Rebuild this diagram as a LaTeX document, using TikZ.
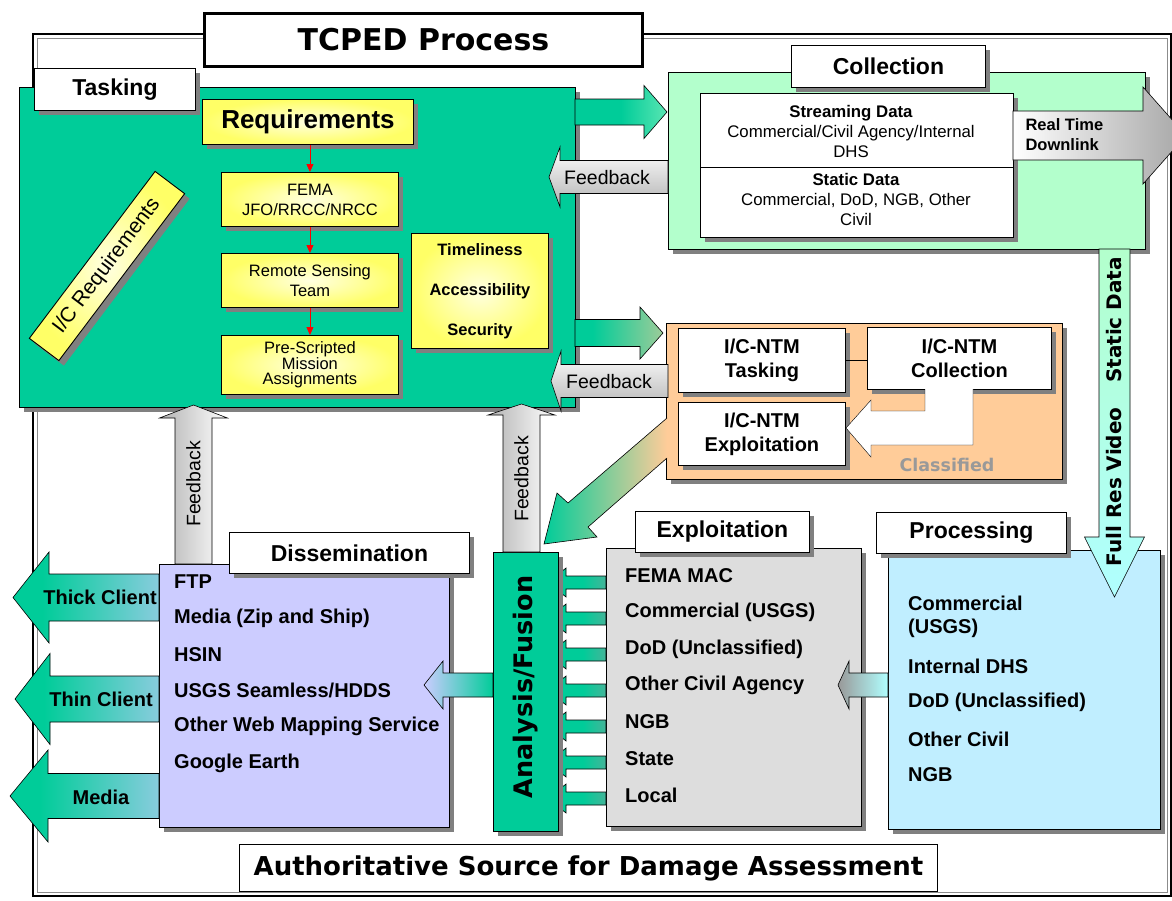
\documentclass[tikz,border=0pt]{standalone}
\usepackage{fontspec}
\setmainfont{Liberation Sans}
\newfontfamily\verd{DejaVu Sans}
\usetikzlibrary{shadows,arrows.meta}

\definecolor{taskgreen}{HTML}{00CC99}
\definecolor{collgreen}{HTML}{B3FFCC}
\definecolor{ntmorange}{HTML}{FFCC99}
\definecolor{explgray}{HTML}{DDDDDD}
\definecolor{disslav}{HTML}{CCCCFF}
\definecolor{procblue}{HTML}{C0EEFF}
\definecolor{reqyellow}{HTML}{FFFF66}
\definecolor{vidcyan}{HTML}{B0FFFF}
\definecolor{fadegray}{HTML}{999999}

\pgfdeclarehorizontalshading{greengray}{100bp}{color(0bp)=(taskgreen); color(55bp)=(taskgreen); color(100bp)=(fadegray)}
\pgfdeclarehorizontalshading{greenlav}{100bp}{color(0bp)=(taskgreen); color(35bp)=(taskgreen); color(95bp)=(disslav); color(100bp)=(disslav)}
\pgfdeclarehorizontalshading{greencoll}{100bp}{color(0bp)=(taskgreen); color(50bp)=(taskgreen); color(100bp)=(collgreen)}
\pgfdeclarehorizontalshading{greenntm}{100bp}{color(0bp)=(taskgreen); color(35bp)=(taskgreen); color(100bp)=(ntmorange)}

\newcommand{\fsz}[2]{\fontsize{#1}{#2}\selectfont}
% block arrow across: tip x, head x, tail x, centre y, body half, head half
\newcommand{\blockh}[6]{(#1,#4) -- (#2,{#4-#6}) -- (#2,{#4-#5}) -- (#3,{#4-#5}) -- (#3,{#4+#5}) -- (#2,{#4+#5}) -- (#2,{#4+#6}) -- cycle}
% block arrow up/down: tip y, head y, tail y, centre x, body half, head half
\newcommand{\blockv}[6]{(#4,#1) -- ({#4-#6},#2) -- ({#4-#5},#2) -- ({#4-#5},#3) -- ({#4+#5},#3) -- ({#4+#5},#2) -- ({#4+#6},#2) -- cycle}

\begin{document}
\begin{tikzpicture}[x=1pt,y=-1pt,
    shadowed/.style={drop shadow={shadow xshift=5pt,shadow yshift=-5pt,fill=black!50,opacity=1}},
    panel/.style={draw,line width=0.9pt,anchor=north west,inner sep=0pt,shadowed},
    tag/.style={panel,fill=white,font=\fsz{23}{23}\bfseries},
    reqbox/.style={panel,inner color=yellow!12,outer color=reqyellow,align=center},
    ntm/.style={panel,fill=white,align=center,font=\fsz{20}{24}\bfseries},
    item/.style={anchor=west,inner sep=0pt,align=left,font=\fsz{20}{23}\bfseries},
    blk/.style={draw,line width=0.6pt},
    redarr/.style={red,line width=0.8pt,-{Triangle[length=8pt,width=7pt]}}]
\useasboundingbox (0,0) rectangle (1172,900);

% frame and title
\draw[line width=2pt] (33,34) rectangle (1171,896);
\draw[black!45,line width=1pt] (37,38) rectangle (1167,892);
\node[draw,line width=3pt,fill=white,anchor=north west,minimum width=438,minimum height=53,
      font=\verd\bfseries\fsz{30}{30}] (title) at (203,12) {TCPED Process};

% tasking
\node[panel,fill=taskgreen,minimum width=556,minimum height=320] (tasking) at (19,87) {};
\node[tag,minimum width=161,minimum height=42] (tasklabel) at (34,68) {Tasking};
\node[reqbox,minimum width=211,minimum height=45,font=\fsz{26}{26}\bfseries] (req) at (202,99) {Requirements};
\node[reqbox,minimum width=177,minimum height=54,font=\fsz{16.5}{20}] (fema) at (221,172) {FEMA\\JFO/RRCC/NRCC};
\node[reqbox,minimum width=177,minimum height=54,font=\fsz{16.5}{20}] (rst) at (221,253) {Remote Sensing\\Team};
\node[reqbox,minimum width=177,minimum height=59,font=\fsz{16.5}{15}] (psma) at (221,335) {Pre-Scripted\\Mission\\Assignments};
\node[reqbox,minimum width=137,minimum height=115,font=\fsz{16.5}{40}\bfseries] (tas) at (411,233) {Timeliness\\Accessibility\\Security};
\node[reqbox,anchor=center,rotate=53,minimum width=209,minimum height=37,font=\fsz{21}{21}] (icreq) at (107,266) {I/C Requirements};
\draw[redarr] (fema.north |- req.south) -- (fema.north);
\draw[redarr] (fema) -- (rst);
\draw[redarr] (rst) -- (psma);

% collection
\node[panel,fill=collgreen,minimum width=477,minimum height=177] (collection) at (668,72) {};
\node[tag,minimum width=194,minimum height=42] (colllabel) at (791,45) {Collection};
\node[panel,fill=white,minimum width=313,minimum height=144] (colldata) at (700,93) {};
\draw (700,167) -- (1013,167);
\node[font=\fsz{16.8}{20},align=center] (stream) at (851,131) {\textbf{Streaming Data}\\Commercial/Civil Agency/Internal\\DHS};
\node[font=\fsz{16.8}{20},align=center] (static) at (856,199) {\textbf{Static Data}\\Commercial, DoD, NGB, Other\\Civil};
\shade[blk,left color=white,right color=black!35] \blockh{1186}{1143}{1013}{135.5}{24.5}{48.5};
\node[anchor=west,align=left,font=\fsz{16.5}{20}\bfseries] (rtd) at (1022,135) {Real Time\\Downlink};

% classified
\node[panel,fill=ntmorange,minimum width=396,minimum height=156] (classified) at (666,323) {};
\node[ntm,minimum width=167,minimum height=64] (ntmtask) at (678,328) {I/C-NTM\\Tasking};
\node[ntm,minimum width=184,minimum height=62] (ntmcoll) at (867,327) {I/C-NTM\\Collection};
\node[ntm,minimum width=167,minimum height=63] (ntmexp) at (678,402) {I/C-NTM\\Exploitation};
\draw (ntmtask.east) -- (ntmtask.east -| ntmcoll.west);
\fill[white] (925,389) -- (925,411) -- (871,411) -- (871,400) -- (846,428) -- (871,457) -- (871,445) -- (973,445) -- (973,389) -- cycle;
\draw (925,389) -- (925,411) -- (871,411) -- (871,400) -- (846,428) -- (871,457) -- (871,445) -- (973,445) -- (973,389);
\node[text=black!40,font=\verd\bfseries\fsz{17.5}{17.5}] (classlabel) at (947,465) {Classified};

% tasking to collection and back
\shade[blk,shading=greencoll] \blockh{667}{644}{575}{112}{13}{26.5};
\shade[blk,shading=greenntm] \blockh{663}{640}{575}{333}{13.5}{26};
\shade[blk,top color=white,bottom color=black!30] \blockh{549}{560}{668}{177}{16.5}{30};
\node[font=\fsz{19.5}{19.5}] (fbcoll) at (607,178) {Feedback};
\shade[blk,top color=white,bottom color=black!30] \blockh{551}{561}{668}{381}{16.5}{30};
\node[font=\fsz{19.5}{19.5}] (fbntm) at (609,382) {Feedback};
\shade[blk,left color=taskgreen,right color=ntmorange] (667,418) -- (568,503) -- (557,493) -- (544,544) -- (597,537) -- (588,527) -- (667,458);

% exploitation
\node[panel,fill=explgray,minimum width=255,minimum height=278] (exploitation) at (606,548) {};
\node[tag,minimum width=174,minimum height=41] (expllabel) at (635,511) {Exploitation};
\foreach \txt [count=\i] in {FEMA MAC, Commercial (USGS), DoD (Unclassified), Other Civil Agency, NGB, State, Local}{
  \pgfmathsetmacro\ya{546.5+36*\i}
  \pgfmathsetmacro\yt{539.5+36.5*\i}
  \shade[blk,shading=greengray] \blockh{548}{566}{606}{\ya}{6.5}{14.5};
  \node[item] (x\i) at (625,\yt) {\txt};
}

% analysis / fusion
\node[panel,fill=taskgreen,minimum width=65,minimum height=279] (analysis) at (493,552) {};
\node[rotate=90,font=\verd\bfseries\fsz{25.5}{25.5}] (anlabel) at (525.5,687) {Analysis/Fusion};

% dissemination
\node[panel,fill=disslav,minimum width=290,minimum height=263] (dissemination) at (159,564) {};
\node[tag,minimum width=240,minimum height=41] (disslabel) at (229,532) {Dissemination};
\foreach \txt [count=\i] in {FTP, Media (Zip and Ship), HSIN, USGS Seamless/HDDS, Other Web Mapping Service, Google Earth}{
  \pgfmathsetmacro\yt{545.8+36.2*\i}
  \node[item] (d\i) at (174,\yt) {\txt};
}
\shade[blk,shading=greenlav] \blockh{13}{49}{159}{597.5}{23.5}{45.5};
\shade[blk,shading=greenlav] \blockh{15}{50}{159}{699}{23}{45.5};
\shade[blk,shading=greenlav] \blockh{10}{48}{159}{796}{22.5}{46};
\node[font=\fsz{20}{20}\bfseries] (thick) at (100,597) {Thick Client};
\node[font=\fsz{20}{20}\bfseries] (thin) at (101,699) {Thin Client};
\node[font=\fsz{20}{20}\bfseries] (media) at (101,797) {Media};
\shade[blk,left color=disslav,right color=taskgreen] \blockh{424}{443}{493}{685}{12}{24};

% processing
\node[panel,fill=procblue,minimum width=272,minimum height=279] (processing) at (888,550) {};
\node[tag,minimum width=190,minimum height=41] (proclabel) at (876,512) {Processing};
\node[item] (p1) at (908,617) {Commercial\\(USGS)};
\node[item] (p2) at (908,666) {Internal DHS};
\node[item] (p3) at (908,702) {DoD (Unclassified)};
\node[item] (p4) at (908,739) {Other Civil};
\node[item] (p5) at (908,775) {NGB};
\shade[blk,left color=black!40,right color=vidcyan] \blockh{838}{849}{888}{685}{12}{24};
\shade[blk,top color=collgreen,bottom color=vidcyan] \blockv{597}{537}{249}{1114.5}{15.5}{30};
\node[rotate=90,font=\verd\bfseries\fsz{20}{20}] (sdata) at (1114.5,320) {Static Data};
\node[rotate=90,font=\verd\bfseries\fsz{20}{20}] (frvideo) at (1114.5,487) {Full Res Video};

% feedback up to tasking
\shade[blk,left color=black!30,right color=white] \blockv{404}{415}{552}{521.5}{18.5}{33.5};
\node[rotate=90,font=\fsz{19.5}{19.5}] (fban) at (521.5,479) {Feedback};
\shade[blk,left color=black!30,right color=white] \blockv{405}{418}{564}{193.5}{18.5}{34};
\node[rotate=90,font=\fsz{19.5}{19.5}] (fbdis) at (193.5,484) {Feedback};

% bottom line
\node[draw,fill=white,line width=0.9pt,anchor=north west,minimum width=698,minimum height=47,
      font=\verd\bfseries\fsz{26}{26}] (authority) at (239,844) {Authoritative Source for Damage Assessment};
\end{tikzpicture}
\end{document}
